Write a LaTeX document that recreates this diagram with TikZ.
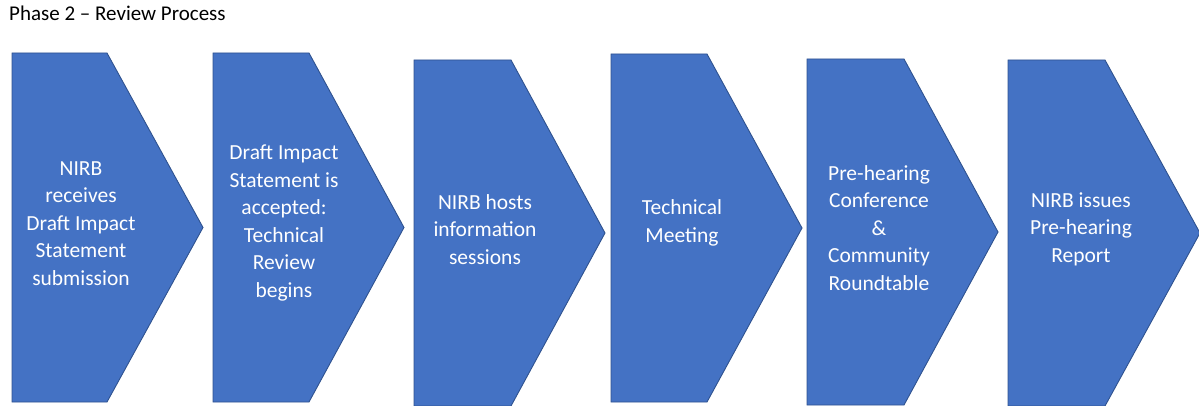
\documentclass[tikz,border=0pt]{standalone}
\usepackage{fontspec}
\setmainfont{Carlito}
\definecolor{boxblue}{HTML}{4472C4}
\definecolor{boxedge}{HTML}{2F528F}
\begin{document}
\begin{tikzpicture}[x=1pt,y=-1pt,
  stage/.style={fill=boxblue,draw=boxedge,line width=0.9pt,line join=miter},
  steptext/.style={text=white,font=\fontsize{21.5}{27.5}\selectfont,align=center,inner sep=0pt}]
\useasboundingbox (0,0) rectangle (1199,406);
\node[anchor=base west,font=\fontsize{21}{25}\selectfont,inner sep=0pt] (title) at (9,20.7) {Phase 2 – Review Process};
% stage shapes
\draw[stage] (12,53) -- (107,53) -- (203,227.5) -- (107,402) -- (12,402) -- cycle;
\draw[stage] (213,53) -- (309,53) -- (404,227.5) -- (309,402) -- (213,402) -- cycle;
\draw[stage] (414,60) -- (511,60) -- (605,233) -- (511,406) -- (414,406) -- cycle;
\draw[stage] (611,54) -- (707,54) -- (802,228) -- (707,402) -- (611,402) -- cycle;
\draw[stage] (807,59) -- (904,59) -- (998,232) -- (904,405) -- (807,405) -- cycle;
\draw[stage] (1008,60) -- (1105,60) -- (1200,233) -- (1105,406) -- (1008,406) -- cycle;
% texts
\node[steptext] (s1) at (81,223.5) {NIRB\\receives\\Draft Impact\\Statement\\submission};
\node[steptext] (s2) at (284,223) {Draft Impact\\Statement is\\accepted:\\Technical\\Review\\begins};
\node[steptext] (s3) at (485,229.5) {NIRB hosts\\information\\sessions};
\node[steptext] (s4) at (682,223) {Technical\\Meeting};
\node[steptext] (s5) at (879,228) {Pre-hearing\\Conference\\\&\\Community\\Roundtable};
\node[steptext] (s6) at (1081,229) {NIRB issues\\Pre-hearing\\Report};
\end{tikzpicture}
\end{document}
